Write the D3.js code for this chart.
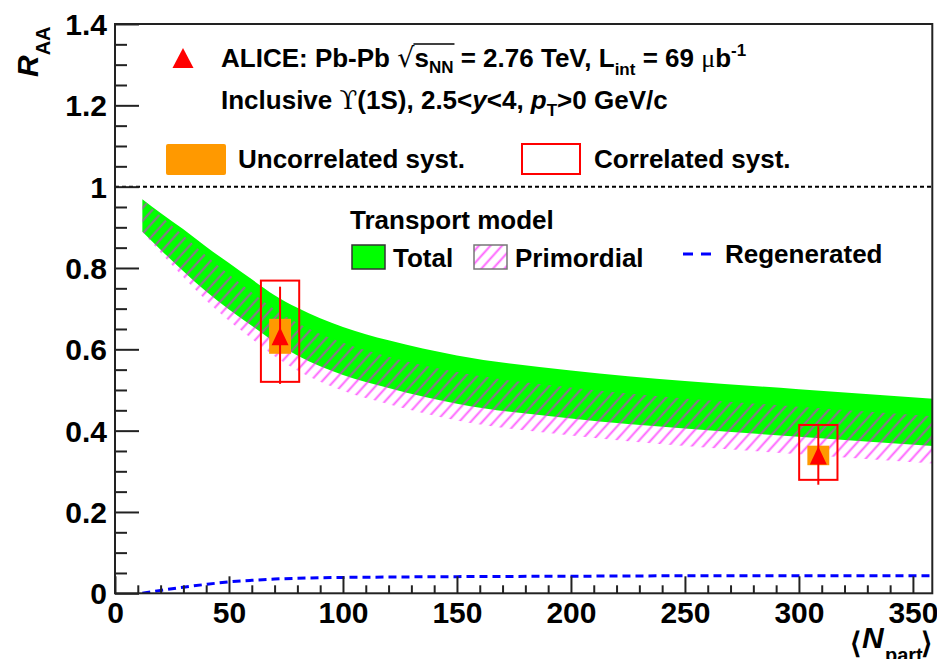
<!DOCTYPE html>
<html><head><meta charset="utf-8">
<script src="https://cdn.jsdelivr.net/npm/d3@7"></script>
<style>
body{margin:0;background:#fff}
svg text{font-family:"Liberation Sans",Arial,Helvetica,sans-serif;font-weight:bold;fill:#000}
</style>
</head><body>
<svg id="chart" width="937" height="659"></svg>
<script>
// ---------- data ----------
const xTickValues = [0, 50, 100, 150, 200, 250, 300, 350];
const yTickValues = [0, 0.2, 0.4, 0.6, 0.8, 1, 1.2, 1.4];
const yTickLabels = ["0", "0.2", "0.4", "0.6", "0.8", "1", "1.2", "1.4"];

// transport model (Npart grid)
const modelNpart   = [12, 20, 30, 40, 50, 60, 70, 80, 100, 120, 150, 200, 250, 300, 360];
const totalUpper   = [0.969, 0.935, 0.895, 0.852, 0.812, 0.772, 0.733, 0.702, 0.655, 0.622, 0.585, 0.548, 0.522, 0.502, 0.478];
const totalLower   = [0.889, 0.845, 0.792, 0.742, 0.698, 0.658, 0.618, 0.585, 0.537, 0.505, 0.466, 0.430, 0.405, 0.385, 0.362];
const primUpper    = [0.969, 0.928, 0.880, 0.830, 0.784, 0.740, 0.698, 0.665, 0.616, 0.582, 0.544, 0.506, 0.479, 0.459, 0.435];
const primLower    = [0.889, 0.838, 0.777, 0.720, 0.670, 0.626, 0.583, 0.548, 0.498, 0.465, 0.425, 0.388, 0.362, 0.342, 0.319];
const regenerated  = [0.000, 0.007, 0.015, 0.022, 0.028, 0.032, 0.035, 0.037, 0.039, 0.040, 0.041, 0.042, 0.043, 0.043, 0.043];

// ALICE data
const dataNpart     = [72.4, 308.5];
const dataRaa       = [0.632, 0.339];
const statUp        = [0.122, 0.072];
const statDown      = [0.117, 0.072];
const uncorrSyst    = [0.043, 0.024];
const corrSystUp    = [0.137, 0.075];
const corrSystDown  = [0.112, 0.060];

// ---------- layout ----------
const svg = d3.select("#chart");
const x = d3.scaleLinear().domain([0, 358.5]).range([115, 932.3]);
const y = d3.scaleLinear().domain([0, 1.4]).range([593.3, 24]);
const uncorrHalfW = 4.8, corrHalfW = 8.4; // in Npart units

const defs = svg.append("defs");
defs.append("clipPath").attr("id", "plotclip").append("rect")
  .attr("x", x(0)).attr("y", y(1.4)).attr("width", x(358.5) - x(0)).attr("height", y(0) - y(1.4));
const pat = defs.append("pattern").attr("id", "hatch")
  .attr("patternUnits", "userSpaceOnUse").attr("width", 8.6).attr("height", 8.6)
  .attr("patternTransform", "rotate(42)");
pat.append("line").attr("x1", 4.3).attr("y1", -1).attr("x2", 4.3).attr("y2", 9.6)
  .attr("stroke", "#ff00ff").attr("stroke-opacity", 0.62).attr("stroke-width", 1.9);

const model = modelNpart.map((n, i) => ({n, tu: totalUpper[i], tl: totalLower[i], pu: primUpper[i], pl: primLower[i], r: regenerated[i]}));
const plot = svg.append("g").attr("clip-path", "url(#plotclip)");

const areaTotal = d3.area().x(d => x(d.n)).y0(d => y(d.tl)).y1(d => y(d.tu)).curve(d3.curveMonotoneX);
const areaPrim = d3.area().x(d => x(d.n)).y0(d => y(d.pl)).y1(d => y(d.pu)).curve(d3.curveMonotoneX);
plot.append("path").datum(model).attr("d", areaTotal).attr("fill", "#00ff00");
plot.append("path").datum(model).attr("d", areaPrim).attr("fill", "url(#hatch)");

const lineRegen = d3.line().x(d => x(d.n)).y(d => y(d.r)).curve(d3.curveMonotoneX);
plot.append("path").datum(model).attr("d", lineRegen).attr("fill", "none")
  .attr("stroke", "#0000ff").attr("stroke-width", 3).attr("stroke-dasharray", "8,5");

// y = 1 reference line
svg.append("line").attr("x1", x(0)).attr("x2", x(358.5)).attr("y1", y(1)).attr("y2", y(1))
  .attr("stroke", "#000").attr("stroke-width", 2).attr("stroke-dasharray", "4,3");

// data points
const pts = dataNpart.map((n, i) => ({n, v: dataRaa[i], su: statUp[i], sd: statDown[i], u: uncorrSyst[i], cu: corrSystUp[i], cd: corrSystDown[i]}));
const gp = svg.append("g");
gp.selectAll(".unc").data(pts).join("rect")
  .attr("x", d => x(d.n - uncorrHalfW)).attr("width", d => x(d.n + uncorrHalfW) - x(d.n - uncorrHalfW))
  .attr("y", d => y(d.v + d.u)).attr("height", d => y(d.v - d.u) - y(d.v + d.u))
  .attr("fill", "#ff9900");
gp.selectAll(".cor").data(pts).join("rect")
  .attr("x", d => x(d.n - corrHalfW)).attr("width", d => x(d.n + corrHalfW) - x(d.n - corrHalfW))
  .attr("y", d => y(d.v + d.cu)).attr("height", d => y(d.v - d.cd) - y(d.v + d.cu))
  .attr("fill", "none").attr("stroke", "#ff0000").attr("stroke-width", 2);
gp.selectAll(".err").data(pts).join("line")
  .attr("x1", d => x(d.n)).attr("x2", d => x(d.n))
  .attr("y1", d => y(d.v + d.su)).attr("y2", d => y(d.v - d.sd))
  .attr("stroke", "#ff0000").attr("stroke-width", 2);
function tri(w, h) { return `M0,${-h/2}L${w/2},${h/2}L${-w/2},${h/2}Z`; }
gp.selectAll(".mk").data(pts).join("path")
  .attr("d", tri(17, 18)).attr("transform", d => `translate(${x(d.n)},${y(d.v)})`).attr("fill", "#ff0000");

// ---------- axes ----------
const axisColor = "#222";
const xMinor = d3.range(0, 360, 10).filter(v => v % 50 !== 0);
const yMinor = d3.range(0, 29).map(i => i * 0.05).filter(v => Math.abs(v / 0.2 - Math.round(v / 0.2)) > 1e-6);

const gx = svg.append("g").attr("transform", `translate(0,${y(0)})`)
  .call(d3.axisBottom(x).tickValues(xTickValues).tickSizeInner(-17).tickSizeOuter(0).tickFormat(d => String(d)));
gx.select(".domain").remove();
gx.selectAll("line").attr("stroke", axisColor).attr("stroke-width", 2);
gx.selectAll("text").attr("y", 29.5).attr("dy", null).attr("font-size", 30).attr("fill", "#000");
const gxm = svg.append("g").attr("transform", `translate(0,${y(0)})`)
  .call(d3.axisBottom(x).tickValues(xMinor).tickSizeInner(-8).tickSizeOuter(0).tickFormat(""));
gxm.select(".domain").remove();
gxm.selectAll("line").attr("stroke", axisColor).attr("stroke-width", 2);

const gy = svg.append("g").attr("transform", `translate(${x(0)},0)`)
  .call(d3.axisLeft(y).tickValues(yTickValues).tickSizeInner(-24).tickSizeOuter(0).tickFormat((d, i) => yTickLabels[i]));
gy.select(".domain").remove();
gy.selectAll("line").attr("stroke", axisColor).attr("stroke-width", 2);
gy.selectAll("text").attr("x", -8).attr("dy", "0.355em").attr("font-size", 30).attr("fill", "#000");
const gym = svg.append("g").attr("transform", `translate(${x(0)},0)`)
  .call(d3.axisLeft(y).tickValues(yMinor).tickSizeInner(-12).tickSizeOuter(0).tickFormat(""));
gym.select(".domain").remove();
gym.selectAll("line").attr("stroke", axisColor).attr("stroke-width", 2);

// frame
svg.append("rect").attr("x", x(0)).attr("y", y(1.4)).attr("width", x(358.5) - x(0)).attr("height", y(0) - y(1.4))
  .attr("fill", "none").attr("stroke", axisColor).attr("stroke-width", 2);

// axis titles
const yt = svg.append("text").attr("transform", "translate(38,77) rotate(-90)").attr("text-anchor", "start");
yt.append("tspan").attr("font-size", 30).attr("font-style", "italic").text("R");
yt.append("tspan").attr("font-size", 20).attr("dy", 12).text("AA");

svg.append("text").attr("x", 850).attr("y", 653).attr("font-family", "DejaVu Sans").attr("font-weight", "normal")
  .attr("font-size", 29).text("\u27E8");
svg.append("text").attr("x", 862).attr("y", 648).attr("font-size", 30).attr("font-style", "italic").text("N");
svg.append("text").attr("x", 885).attr("y", 662).attr("font-size", 20).text("part");
svg.append("text").attr("x", 921).attr("y", 653).attr("font-family", "DejaVu Sans").attr("font-weight", "normal")
  .attr("font-size", 29).text("\u27E9");

// ---------- legend / labels ----------
const fs = 26;
svg.append("path").attr("d", tri(21, 20)).attr("transform", "translate(183,58)").attr("fill", "#ff0000");
const l1 = svg.append("text").attr("x", 221).attr("y", 67).attr("font-size", fs);
l1.append("tspan").text("ALICE: Pb-Pb ");
const sq = l1.append("tspan").attr("font-family", "DejaVu Sans").attr("font-weight", "normal").attr("font-size", 27).text("\u221A");
l1.append("tspan").text("s");
const nn = l1.append("tspan").attr("font-size", 17).attr("dy", 6).text("NN");
l1.append("tspan").attr("dy", -6).text(" = 2.76 TeV, L");
l1.append("tspan").attr("font-size", 17).attr("dy", 8).text("int");
l1.append("tspan").attr("dy", -8).text(" = 69 ");
l1.append("tspan").attr("font-family", "Liberation Serif").attr("font-weight", "normal").text("\u03BC");
l1.append("tspan").text("b");
l1.append("tspan").attr("font-size", 17).attr("dy", -11).text("-1");
// radical bar
{
  const e1 = sq.node().getExtentOfChar(0);
  const e2 = nn.node().getExtentOfChar(1);
  svg.append("line").attr("x1", e1.x + e1.width - 1).attr("x2", e2.x + e2.width + 1)
    .attr("y1", e1.y + 2).attr("y2", e1.y + 2).attr("stroke", "#000").attr("stroke-width", 1.3);
}

const l2 = svg.append("text").attr("x", 221).attr("y", 109).attr("font-size", fs);
l2.append("tspan").text("Inclusive ");
l2.append("tspan").attr("font-family", "DejaVu Serif").attr("font-weight", "normal").text("\u03D2");
l2.append("tspan").text("(1S), 2.5<");
l2.append("tspan").attr("font-style", "italic").text("y");
l2.append("tspan").text("<4, ");
l2.append("tspan").attr("font-style", "italic").text("p");
l2.append("tspan").attr("font-size", 17).attr("dy", 7).text("T");
l2.append("tspan").attr("dy", -7).text(">0 GeV/c");

svg.append("rect").attr("x", 166).attr("y", 144).attr("width", 60).attr("height", 31).attr("rx", 2).attr("fill", "#ff9900");
svg.append("text").attr("x", 238).attr("y", 168).attr("font-size", fs).text("Uncorrelated syst.");
svg.append("rect").attr("x", 522).attr("y", 144).attr("width", 58).attr("height", 30).attr("fill", "#fff")
  .attr("stroke", "#ff0000").attr("stroke-width", 2);
svg.append("text").attr("x", 594).attr("y", 168).attr("font-size", fs).text("Correlated syst.");

svg.append("text").attr("x", 350).attr("y", 229).attr("font-size", fs).text("Transport model");
svg.append("rect").attr("x", 352).attr("y", 245).attr("width", 33).attr("height", 24).attr("fill", "#00ff00")
  .attr("stroke", "#333").attr("stroke-width", 1.5);
svg.append("text").attr("x", 393).attr("y", 267).attr("font-size", fs).text("Total");
svg.append("rect").attr("x", 474).attr("y", 245).attr("width", 33).attr("height", 24).attr("fill", "url(#hatch)")
  .attr("stroke", "#777").attr("stroke-width", 1.5);
svg.append("text").attr("x", 515).attr("y", 267).attr("font-size", fs).text("Primordial");
svg.append("line").attr("x1", 683).attr("x2", 713).attr("y1", 254).attr("y2", 254)
  .attr("stroke", "#0000ff").attr("stroke-width", 3).attr("stroke-dasharray", "10,8");
svg.append("text").attr("x", 725).attr("y", 263).attr("font-size", fs).text("Regenerated");
</script>
</body></html>
